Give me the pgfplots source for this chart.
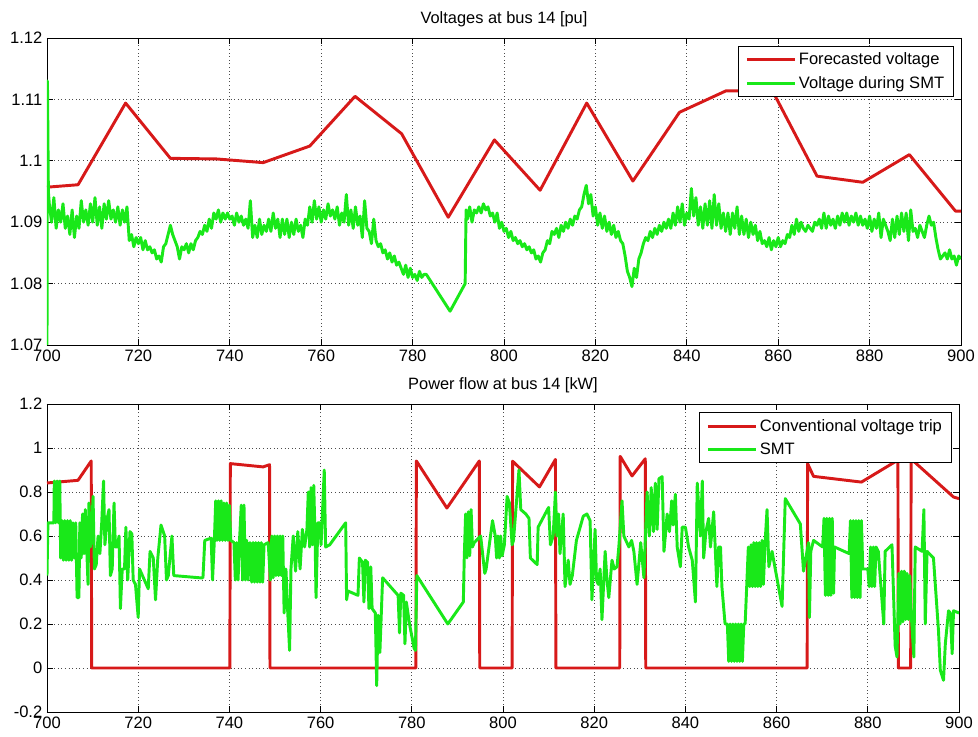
\documentclass[border=0pt]{standalone}
\usepackage{fontspec}
\setmainfont{Liberation Sans}
\usepackage{pgfplots}
\pgfplotsset{compat=1.18}
\definecolor{mred}{RGB}{215,25,25}
\definecolor{mgreen}{RGB}{25,232,25}
\pgfplotsset{
  mstyle/.style={
    scale only axis, xmin=700, xmax=900, xtick={700,720,...,900},
    grid=major,
    major grid style={black!70, line width=0.55pt, dash pattern=on 0.6pt off 2.1pt},
    tick align=inside, major tick length=4.5pt,
    axis line style={black, line width=0.7pt},
    every tick/.style={black, line width=0.7pt},
    ticklabel style={font=\fontsize{12.4}{14}\selectfont},
    /pgf/number format/assume math mode=true,
    title style={font=\fontsize{12.3}{14}\selectfont, yshift=-1pt},
    legend style={font=\fontsize{12.4}{15}\selectfont, draw=black, line width=0.7pt,
      anchor=north east, cells={anchor=west}, inner xsep=5pt, inner ysep=3pt, row sep=3pt},
    legend image code/.code={\draw[##1, line width=2.2pt] (0pt,0pt) -- (36pt,0pt);},
  },
  pl/.style={line width=2.2pt, line join=round, #1},
}
\begin{document}
\begin{tikzpicture}
\useasboundingbox (0pt,0pt) rectangle (733.5pt,552.75pt);
\begin{axis}[mstyle, at={(35.25pt,294pt)}, anchor=south west, width=685.5pt, height=230.25pt,
  ymin=1.07, ymax=1.12, ytick={1.07,1.08,...,1.12},
  yticklabels={1.07,1.08,1.09,1.1,1.11,1.12},
  title={Voltages at bus 14 [pu]},
  legend style={at={(rel axis cs:0.9923,0.975)}}]
\addplot[pl=mred] table {
x y
700 1.0957
706.8 1.0961
717.2 1.1094
727.0 1.1004
737.1 1.1003
747.3 1.0997
757.5 1.1024
767.4 1.1105
777.6 1.1044
787.8 1.0908
797.9 1.1034
807.9 1.0952
818.1 1.1094
828.2 1.0967
838.4 1.1079
848.6 1.1114
858.0 1.1114
859.3 1.1106
868.5 1.0975
878.5 1.0965
888.7 1.1010
898.8 1.0918
900 1.0918
};
\addlegendentry{Forecasted voltage}
\addplot[pl=mgreen] table {
x y
700.0 1.070
700.1 1.113
700.3 1.095
700.5 1.093
701.0 1.090
701.5 1.094
702.0 1.089
702.5 1.092
703.0 1.090
703.5 1.093
704.0 1.089
704.5 1.091
705.0 1.088
705.5 1.092
706.0 1.0875
706.5 1.091
707.0 1.089
707.5 1.0935
708.0 1.090
708.5 1.092
709.0 1.0895
709.5 1.093
710.0 1.090
710.5 1.094
711.0 1.0895
711.5 1.0925
712.0 1.089
712.5 1.093
713.0 1.0905
713.5 1.0935
714.0 1.0905
714.5 1.092
715.0 1.090
715.5 1.0925
716.0 1.0895
716.5 1.092
717.0 1.090
717.5 1.0925
718.0 1.087
718.5 1.088
719.0 1.086
719.5 1.0875
720.0 1.0865
720.5 1.0875
721.0 1.0855
721.5 1.087
722.0 1.0855
722.5 1.086
723.0 1.085
723.5 1.0855
724.0 1.084
724.5 1.0845
725.0 1.0835
725.5 1.086
726.0 1.0865
726.5 1.088
727.0 1.0895
727.5 1.088
728.0 1.087
728.5 1.086
729.0 1.084
729.5 1.086
730.0 1.0855
730.5 1.0865
731.0 1.085
731.5 1.0865
732.0 1.0855
732.5 1.087
733.0 1.0875
733.5 1.0885
734.0 1.088
734.5 1.0895
735.0 1.0885
735.5 1.0905
736.0 1.089
736.5 1.0915
737.0 1.0905
737.5 1.092
738.0 1.090
738.5 1.0915
739.0 1.0905
739.5 1.0915
740.0 1.0905
740.5 1.091
741.0 1.0895
741.5 1.0915
742.0 1.090
742.5 1.091
743.0 1.0895
743.5 1.0905
744.0 1.089
744.5 1.0935
745.0 1.0875
745.5 1.0895
746.0 1.0875
746.5 1.0905
747.0 1.088
747.5 1.0895
748.0 1.0885
748.5 1.0905
749.0 1.0885
749.5 1.0915
750.0 1.089
750.5 1.0905
751.0 1.0875
751.5 1.0905
752.0 1.088
752.5 1.0905
753.0 1.0875
753.5 1.090
754.0 1.088
754.5 1.0905
755.0 1.0885
755.5 1.0895
756.0 1.0875
756.5 1.0905
757.0 1.0895
757.5 1.0925
758.0 1.090
758.5 1.0935
759.0 1.0905
759.5 1.0925
760.0 1.090
760.5 1.092
761.0 1.0905
761.5 1.093
762.0 1.091
762.5 1.092
763.0 1.0905
763.5 1.0925
764.0 1.0895
764.5 1.0915
765.0 1.090
765.5 1.0945
766.0 1.0895
766.5 1.092
767.0 1.089
767.5 1.0925
768.0 1.0895
768.5 1.091
769.0 1.0875
769.5 1.0935
770.0 1.089
770.5 1.0885
771.0 1.0865
771.5 1.0905
772.0 1.087
772.5 1.086
773.0 1.0865
773.5 1.085
774.0 1.0855
774.5 1.084
775.0 1.085
775.5 1.0835
776.0 1.0845
776.5 1.083
777.0 1.0835
777.5 1.0825
778.0 1.0815
778.5 1.083
779.0 1.081
779.5 1.0825
780.0 1.081
780.5 1.0815
781.0 1.0805
781.5 1.082
782.0 1.081
782.5 1.0815
783.0 1.0815
788.2 1.0755
791.5 1.080
791.7 1.092
792.0 1.0905
792.5 1.0925
793.0 1.090
793.5 1.092
794.0 1.0915
794.5 1.0925
795.0 1.0915
795.5 1.093
796.0 1.092
796.5 1.0925
797.0 1.091
797.5 1.0915
798.0 1.090
798.5 1.0915
799.0 1.089
799.5 1.090
800.0 1.0885
800.5 1.089
801.0 1.0875
801.5 1.0885
802.0 1.087
802.5 1.0875
803.0 1.0865
803.5 1.087
804.0 1.086
804.5 1.0865
805.0 1.0855
805.5 1.086
806.0 1.085
806.5 1.0855
807.0 1.084
807.5 1.0845
808.0 1.0835
808.5 1.085
809.0 1.0855
809.5 1.087
810.0 1.0865
810.5 1.0885
811.0 1.088
811.5 1.089
812.0 1.0875
812.5 1.0895
813.0 1.0885
813.5 1.090
814.0 1.089
814.5 1.0905
815.0 1.0895
815.5 1.091
816.0 1.0905
816.5 1.092
817.0 1.0925
817.5 1.0945
818.0 1.096
818.5 1.093
819.0 1.0945
819.5 1.091
820.0 1.0925
820.5 1.0895
821.0 1.0915
821.5 1.089
822.0 1.091
822.5 1.0885
823.0 1.090
823.5 1.088
824.0 1.0895
824.5 1.0875
825.0 1.0885
825.5 1.087
826.0 1.0865
826.5 1.0845
827.0 1.082
827.5 1.081
828.0 1.0795
828.5 1.0825
829.0 1.081
829.5 1.084
830.0 1.085
830.5 1.0865
831.0 1.0875
831.5 1.087
832.0 1.0885
832.5 1.0875
833.0 1.089
833.5 1.088
834.0 1.0895
834.5 1.0885
835.0 1.090
835.5 1.089
836.0 1.0905
836.5 1.089
837.0 1.0915
837.5 1.0895
838.0 1.0925
838.5 1.090
839.0 1.093
839.5 1.0895
840.0 1.0915
840.5 1.0905
841.0 1.0955
841.5 1.091
842.0 1.094
842.5 1.0895
843.0 1.0925
843.5 1.089
844.0 1.093
844.5 1.0895
845.0 1.0935
845.5 1.089
846.0 1.0945
846.5 1.0895
847.0 1.093
847.5 1.089
848.0 1.0915
848.5 1.0885
849.0 1.0915
849.5 1.088
850.0 1.0915
850.5 1.089
851.0 1.0925
851.5 1.088
852.0 1.091
852.5 1.088
853.0 1.0905
853.5 1.0875
854.0 1.090
854.5 1.088
855.0 1.0895
855.5 1.087
856.0 1.0885
856.5 1.0865
857.0 1.087
857.5 1.086
858.0 1.0875
858.5 1.0855
859.0 1.087
859.5 1.086
860.0 1.0875
860.5 1.086
861.0 1.087
861.5 1.0865
862.0 1.088
862.5 1.0875
863.0 1.0895
863.5 1.088
864.0 1.0905
864.5 1.0885
865.0 1.090
865.5 1.089
866.0 1.0885
866.5 1.0895
867.0 1.089
867.5 1.0885
868.0 1.090
868.5 1.0895
869.0 1.0905
869.5 1.089
870.0 1.0915
870.5 1.089
871.0 1.091
871.5 1.0895
872.0 1.0905
872.5 1.089
873.0 1.091
873.5 1.0895
874.0 1.0915
874.5 1.090
875.0 1.0915
875.5 1.0895
876.0 1.091
876.5 1.090
877.0 1.0915
877.5 1.0895
878.0 1.091
878.5 1.0895
879.0 1.0905
879.5 1.089
880.0 1.091
880.5 1.0885
881.0 1.0905
881.5 1.089
882.0 1.0915
882.5 1.0875
883.0 1.0905
883.5 1.0895
884.0 1.0885
884.5 1.087
885.0 1.0905
885.5 1.0875
886.0 1.091
886.5 1.088
887.0 1.0915
887.5 1.0885
888.0 1.0915
888.5 1.087
889.0 1.092
889.5 1.0885
890.0 1.089
890.5 1.0875
891.0 1.0895
891.5 1.0885
892.0 1.0875
892.5 1.0895
893.0 1.091
893.5 1.0895
894.0 1.090
894.5 1.0875
895.0 1.0855
895.5 1.084
896.0 1.0845
896.5 1.085
897.0 1.084
897.5 1.0855
898.0 1.084
898.5 1.0845
899.0 1.083
899.5 1.0845
900.0 1.084
};
\addlegendentry{Voltage during SMT}
\end{axis}

\begin{axis}[mstyle, at={(35.25pt,18.75pt)}, anchor=south west, width=684pt, height=231pt,
  ymin=-0.2, ymax=1.2, ytick={-0.2,0,0.2,...,1.2},
  yticklabels={-0.2,0,0.2,0.4,0.6,0.8,1,1.2},
  title={Power flow at bus 14 [kW]},
  legend style={at={(rel axis cs:0.992,0.973)}}]
\addplot[pl=mred] table {
x y
700 0.841
706.8 0.853
709.7 0.941
709.8 0
740.1 0
740.2 0.929
747.4 0.914
748.8 0.924
748.9 0
780.9 0
781.0 0.941
787.7 0.727
794.8 0.941
794.9 0
802.0 0
802.1 0.94
808.0 0.823
811.5 0.948
811.6 0
825.6 0
825.7 0.962
828.3 0.873
831.2 0.951
831.3 0
866.7 0
866.8 0.929
868.1 0.871
878.6 0.845
886.6 0.945
886.7 0
889.4 0
889.5 0.95
898.8 0.777
900 0.77
};
\addlegendentry{Conventional voltage trip}
\addplot[pl=mgreen] table {
x y
700.0 0.42
700.2 0.66
701.5 0.66
701.6 0.85
701.9 0.66
702.2 0.85
702.5 0.66
702.8 0.85
703.0 0.50
703.3 0.67
703.6 0.49
703.9 0.67
704.2 0.49
704.5 0.67
704.8 0.49
705.1 0.67
705.4 0.49
705.7 0.66
706.0 0.50
706.3 0.66
706.6 0.32
707.0 0.32
707.2 0.66
707.5 0.50
707.8 0.70
708.1 0.52
708.4 0.72
708.7 0.55
709.0 0.38
709.2 0.75
709.5 0.55
709.8 0.62
710.1 0.78
710.4 0.45
710.8 0.47
711.2 0.60
711.6 0.52
712.0 0.66
712.4 0.85
712.7 0.56
713.2 0.68
713.6 0.72
713.9 0.42
714.3 0.45
714.7 0.75
715.0 0.55
715.4 0.55
715.8 0.60
716.1 0.27
716.5 0.45
717.0 0.45
717.3 0.64
717.7 0.40
718.2 0.62
718.6 0.61
718.9 0.40
719.4 0.38
720.0 0.23
720.3 0.45
722.2 0.36
722.6 0.53
723.3 0.50
723.8 0.31
724.3 0.50
725.0 0.65
725.8 0.60
726.2 0.40
726.6 0.42
727.4 0.60
727.8 0.42
733.5 0.41
734.2 0.41
734.6 0.58
736.0 0.59
736.3 0.40
736.7 0.58
737.0 0.76
737.3 0.58
737.6 0.76
737.9 0.58
738.2 0.76
738.5 0.58
738.8 0.75
739.1 0.58
739.4 0.75
739.7 0.58
740.0 0.74
740.3 0.58
741.0 0.57
741.3 0.40
741.6 0.57
741.9 0.40
742.2 0.57
742.6 0.74
742.9 0.40
743.2 0.74
743.5 0.40
743.8 0.58
744.1 0.40
744.5 0.57
744.9 0.39
745.2 0.57
745.5 0.39
745.8 0.57
746.1 0.39
746.4 0.57
746.7 0.39
747.0 0.57
747.3 0.39
747.6 0.56
748.5 0.57
749.0 0.40
749.3 0.60
749.6 0.41
749.9 0.60
750.2 0.42
750.5 0.60
750.8 0.42
751.1 0.60
751.4 0.42
751.7 0.60
752.0 0.25
752.4 0.45
752.8 0.25
753.2 0.08
753.5 0.45
754.0 0.60
754.5 0.44
755.0 0.62
755.5 0.45
756.0 0.63
756.5 0.55
757.0 0.63
757.3 0.80
757.6 0.55
757.9 0.82
758.2 0.56
758.5 0.83
758.8 0.58
759.0 0.32
759.4 0.66
759.8 0.66
760.1 0.56
760.4 0.70
760.8 0.90
761.1 0.55
762.0 0.56
765.5 0.66
765.7 0.31
766.0 0.35
768.2 0.33
768.5 0.50
769.2 0.48
769.5 0.30
769.8 0.49
770.3 0.48
770.6 0.27
771.0 0.46
771.3 0.27
772.0 0.25
772.3 -0.08
772.6 0.24
773.0 0.07
773.6 0.41
777.0 0.33
777.3 0.16
777.6 0.34
778.2 0.33
778.5 0.11
778.8 0.30
779.5 0.20
780.5 0.09
780.8 0.08
781.1 0.42
787.9 0.20
791.3 0.30
791.5 0.50
791.8 0.70
792.1 0.50
792.4 0.71
792.7 0.51
793.0 0.72
793.3 0.55
793.7 0.57
795.1 0.60
796.0 0.43
796.3 0.45
797.7 0.67
798.3 0.60
798.6 0.50
798.9 0.60
799.2 0.50
799.5 0.60
799.8 0.51
800.3 0.56
800.9 0.78
801.4 0.75
802.0 0.56
802.3 0.58
803.5 0.90
803.9 0.72
805.0 0.70
805.7 0.68
806.0 0.50
807.5 0.47
807.7 0.64
810.0 0.73
810.4 0.56
811.0 0.60
811.5 0.80
811.8 0.60
812.2 0.70
812.5 0.52
813.2 0.70
813.6 0.37
814.3 0.49
814.7 0.38
815.2 0.42
816.1 0.58
817.6 0.69
818.4 0.70
819.1 0.67
819.5 0.31
820.2 0.63
820.5 0.40
820.9 0.38
821.3 0.45
821.7 0.22
822.4 0.53
822.8 0.40
823.2 0.32
823.9 0.49
824.4 0.45
825.0 0.46
825.4 0.55
826.1 0.76
826.5 0.60
827.6 0.55
828.2 0.58
828.7 0.53
829.4 0.38
830.2 0.57
830.9 0.41
831.6 0.80
832.1 0.60
832.5 0.82
833.0 0.62
833.4 0.84
833.8 0.63
834.2 0.86
834.9 0.87
835.3 0.53
836.0 0.70
836.5 0.62
837.0 0.76
837.3 0.65
837.8 0.79
838.2 0.55
838.9 0.46
839.3 0.64
840.0 0.64
840.7 0.55
841.5 0.49
842.2 0.30
842.6 0.84
843.3 0.60
843.7 0.85
844.0 0.50
844.5 0.62
845.1 0.68
845.5 0.55
846.2 0.71
846.9 0.37
847.3 0.55
847.7 0.55
848.0 0.37
848.7 0.20
849.2 0.20
849.5 0.03
849.8 0.20
850.1 0.03
850.4 0.20
850.7 0.03
851.0 0.20
851.3 0.03
851.6 0.20
851.9 0.03
852.2 0.20
852.5 0.03
852.8 0.20
853.1 0.20
853.8 0.55
854.1 0.37
854.4 0.56
854.7 0.37
855.0 0.57
855.3 0.37
855.6 0.57
855.9 0.37
856.2 0.57
856.5 0.37
856.8 0.58
857.1 0.38
857.5 0.58
857.9 0.72
858.3 0.46
859.0 0.53
861.2 0.28
861.9 0.77
865.2 0.655
865.9 0.44
867.0 0.57
867.2 0.23
867.5 0.53
868.1 0.58
870.1 0.55
870.4 0.68
870.7 0.33
871.0 0.68
871.3 0.33
871.6 0.68
871.9 0.33
872.2 0.68
872.5 0.34
872.7 0.55
875.9 0.52
876.2 0.67
876.5 0.32
876.8 0.67
877.1 0.32
877.4 0.67
877.7 0.32
878.0 0.67
878.3 0.32
878.6 0.67
878.9 0.45
880.0 0.45
880.3 0.37
880.6 0.55
880.9 0.37
881.2 0.55
881.5 0.37
881.8 0.55
882.3 0.53
883.5 0.20
883.8 0.53
885.3 0.56
886.0 0.10
886.4 0.05
886.8 0.43
887.1 0.20
887.4 0.44
887.7 0.21
888.0 0.44
888.3 0.22
888.6 0.43
888.9 0.22
889.2 0.42
889.5 0.25
890.1 0.05
890.4 0.55
891.9 0.53
892.3 0.72
892.6 0.20
893.0 0.53
894.4 0.50
895.5 0.17
895.9 -0.01
896.6 -0.056
897.0 0.11
897.7 0.26
898.1 0.25
898.5 0.065
898.8 0.26
900.0 0.25
};
\addlegendentry{SMT}
\end{axis}
\end{tikzpicture}
\end{document}
